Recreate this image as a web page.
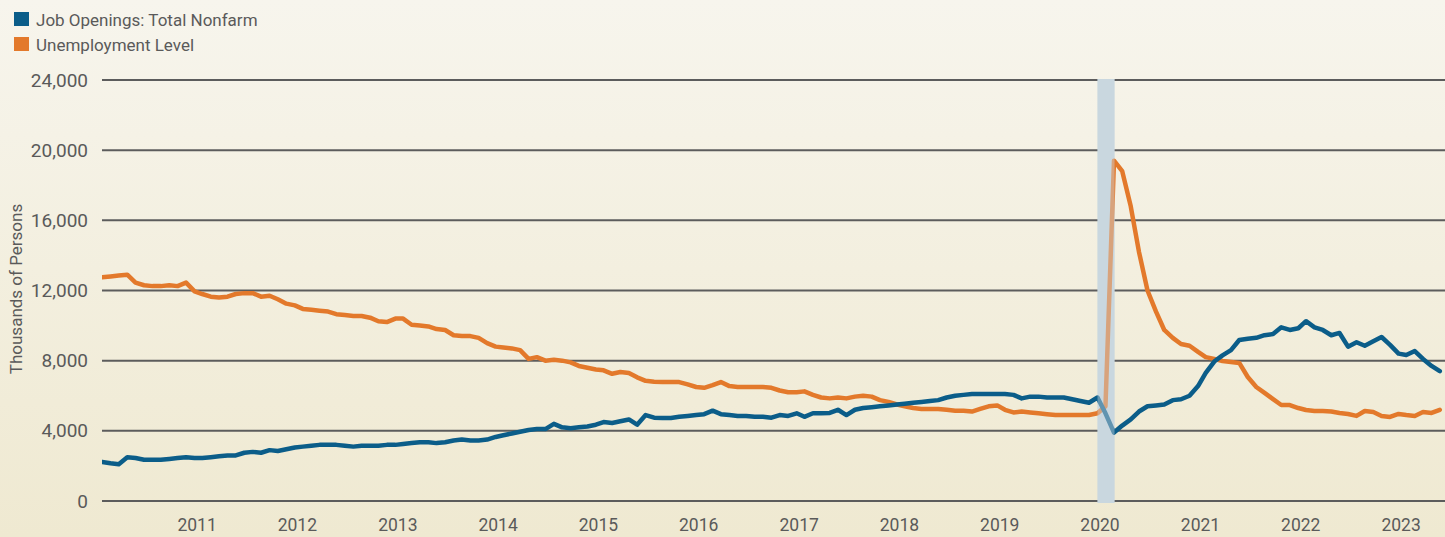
<!DOCTYPE html>
<html>
<head>
<meta charset="utf-8">
<script src="https://cdn.jsdelivr.net/npm/d3@7"></script>
<style>
  html, body { margin: 0; padding: 0; }
  body { width: 1445px; height: 537px; overflow: hidden; }
</style>
</head>
<body>
<div id="chart"></div>
<script>
// monthly series, Mar 2010 .. Jul 2023 (thousands of persons)
const startMonth = new Date(2010, 2, 1);

const jobOpenings = [
  // 2010 (Mar-Dec)
  2230, 2150, 2100, 2500, 2450, 2350, 2350, 2350, 2400, 2450,
  // 2011
  2500, 2450, 2450, 2500, 2550, 2600, 2600, 2750, 2800, 2750, 2900, 2850,
  // 2012
  2950, 3050, 3100, 3150, 3200, 3200, 3200, 3150, 3100, 3150, 3150, 3150,
  // 2013
  3200, 3200, 3250, 3300, 3350, 3350, 3300, 3350, 3450, 3500, 3450, 3450,
  // 2014
  3500, 3650, 3750, 3850, 3950, 4050, 4100, 4100, 4400, 4200, 4150, 4200,
  // 2015
  4250, 4350, 4500, 4450, 4550, 4650, 4350, 4900, 4750, 4730, 4730, 4800,
  // 2016
  4850, 4900, 4950, 5150, 4950, 4900, 4850, 4850, 4800, 4800, 4750, 4900,
  // 2017
  4850, 5000, 4800, 5000, 5000, 5020, 5200, 4900, 5200, 5300, 5350, 5400,
  // 2018
  5450, 5500, 5550, 5600, 5650, 5700, 5750, 5900, 6000, 6050, 6100, 6100,
  // 2019
  6100, 6100, 6100, 6050, 5850, 5950, 5950, 5900, 5900, 5900, 5800, 5700,
  // 2020
  5600, 5900, 5000, 3900, 4300, 4650, 5100, 5400, 5450, 5500, 5750, 5800,
  // 2021
  6000, 6550, 7300, 7950, 8300, 8600, 9180, 9250, 9300, 9450, 9520, 9900,
  // 2022
  9750, 9850, 10250, 9900, 9750, 9450, 9580, 8800, 9050, 8850, 9100, 9350,
  // 2023 (Jan-Jul)
  8900, 8400, 8320, 8550, 8100, 7700, 7400
];

const unemployment = [
  // 2010 (Mar-Dec)
  12750, 12800, 12850, 12900, 12450, 12300, 12250, 12250, 12300, 12250,
  // 2011
  12450, 11950, 11800, 11650, 11600, 11650, 11800, 11850, 11850, 11650, 11700, 11500,
  // 2012
  11250, 11150, 10950, 10900, 10850, 10800, 10650, 10600, 10550, 10550, 10450, 10250,
  // 2013
  10200, 10400, 10400, 10050, 10000, 9950, 9800, 9750, 9450, 9400, 9400, 9300,
  // 2014
  9000, 8800, 8750, 8700, 8600, 8100, 8200, 8000, 8050, 8000, 7900, 7700,
  // 2015
  7600, 7500, 7450, 7250, 7350, 7300, 7050, 6850, 6800, 6780, 6780, 6780,
  // 2016
  6650, 6500, 6450, 6600, 6780, 6550, 6500, 6500, 6500, 6500, 6450, 6300,
  // 2017
  6200, 6200, 6250, 6050, 5900, 5850, 5900, 5850, 5950, 6000, 5950, 5750,
  // 2018
  5650, 5500, 5400, 5300, 5250, 5250, 5250, 5200, 5150, 5150, 5100, 5250,
  // 2019
  5400, 5450, 5200, 5050, 5100, 5050, 5000, 4950, 4900, 4900, 4900, 4900,
  // 2020
  4900, 5000, 5400, 19400, 18800, 16800, 14200, 12000, 10800, 9750, 9300, 8950,
  // 2021
  8850, 8500, 8200, 8100, 7980, 7920, 7870, 7070, 6500, 6160, 5810, 5470,
  // 2022
  5470, 5300, 5190, 5130, 5130, 5100, 5020, 4960, 4850, 5130, 5070, 4850,
  // 2023 (Jan-Jul)
  4790, 4960, 4900, 4850, 5070, 5020, 5200
];

const seriesNames = ["Job Openings: Total Nonfarm", "Unemployment Level"];
const seriesColors = ["#0b5d89", "#e3792b"];
const yTicks = [0, 4000, 8000, 12000, 16000, 20000, 24000];
const xTickYears = [2011, 2012, 2013, 2014, 2015, 2016, 2017, 2018, 2019, 2020, 2021, 2022, 2023];
const recession = [new Date(2020, 1, 1), new Date(2020, 3, 3)];

const width = 1445;
const height = 537;
const margin = { top: 80, right: 0, bottom: 36, left: 102 };

const dates = jobOpenings.map((d, i) => d3.timeMonth.offset(startMonth, i));

const x = d3
  .scaleTime()
  .domain([startMonth, new Date(2023, 6, 20)])
  .range([margin.left, width - margin.right]);

const y = d3
  .scaleLinear()
  .domain([0, 24000])
  .range([height - margin.bottom, margin.top]);

const svg = d3
  .select("#chart")
  .append("svg")
  .attr("width", width)
  .attr("height", height)
  .style("font-family", "Roboto, 'Open Sans', sans-serif");

// background gradient
const defs = svg.append("defs");
const grad = defs
  .append("linearGradient")
  .attr("id", "bg")
  .attr("x1", 0).attr("y1", 0)
  .attr("x2", 0).attr("y2", 1);
grad.append("stop").attr("offset", "0%").attr("stop-color", "#f7f5ed");
grad.append("stop").attr("offset", "100%").attr("stop-color", "#efe9d1");

defs
  .append("clipPath")
  .attr("id", "plotClip")
  .append("rect")
  .attr("x", margin.left)
  .attr("y", 0)
  .attr("width", width - margin.left - margin.right)
  .attr("height", height);

svg
  .append("rect")
  .attr("width", width)
  .attr("height", height)
  .attr("fill", "url(#bg)");

// legend
const legend = svg
  .selectAll("g.legend")
  .data(seriesNames)
  .join("g")
  .attr("class", "legend")
  .attr("transform", (d, i) => `translate(14,${12 + i * 25})`);

legend
  .append("rect")
  .attr("width", 15)
  .attr("height", 14)
  .attr("fill", (d, i) => seriesColors[i]);

legend
  .append("text")
  .attr("x", 22)
  .attr("y", 14)
  .attr("font-size", "17px")
  .attr("fill", "#5a5a5a")
  .text((d) => d);

// y gridlines + labels
const yAxis = svg
  .append("g")
  .selectAll("g")
  .data(yTicks)
  .join("g")
  .attr("transform", (d) => `translate(0,${y(d)})`);

yAxis
  .append("line")
  .attr("x1", margin.left)
  .attr("x2", width - margin.right)
  .attr("stroke", "#5c5c5c")
  .attr("stroke-width", 2);

yAxis
  .append("text")
  .attr("x", 88)
  .attr("dy", "0.35em")
  .attr("text-anchor", "end")
  .attr("font-size", "19px")
  .attr("fill", "#5a5a5a")
  .text((d) => d3.format(",")(d));

svg
  .append("text")
  .attr("transform", "translate(22,289) rotate(-90)")
  .attr("text-anchor", "middle")
  .attr("font-size", "17px")
  .attr("fill", "#5a5a5a")
  .text("Thousands of Persons");

// x labels (no tick marks)
svg
  .append("g")
  .selectAll("text")
  .data(xTickYears)
  .join("text")
  .attr("x", (d) => x(new Date(d, 0, 1)) + 11)
  .attr("y", 531)
  .attr("text-anchor", "middle")
  .attr("font-size", "17.5px")
  .attr("fill", "#5a5a5a")
  .text((d) => d);

// recession band
const band = () =>
  svg
    .append("rect")
    .attr("x", x(recession[0]))
    .attr("width", x(recession[1]) - x(recession[0]))
    .attr("y", y(24000) - 1)
    .attr("height", y(0) - y(24000) + 3)
    .attr("fill", "#c9d8df");

band();

// lines
const line = d3
  .line()
  .x((d, i) => x(dates[i]))
  .y((d) => y(d));

svg
  .append("g")
  .attr("clip-path", "url(#plotClip)")
  .selectAll("path")
  .data([unemployment, jobOpenings])
  .join("path")
  .attr("fill", "none")
  .attr("stroke", (d, i) => (i === 0 ? seriesColors[1] : seriesColors[0]))
  .attr("stroke-width", 4.5)
  .attr("stroke-linejoin", "round")
  .attr("stroke-linecap", "round")
  .attr("d", line);

// band washes the lines that pass through it
band().attr("opacity", 0.45);
</script>
</body>
</html>
